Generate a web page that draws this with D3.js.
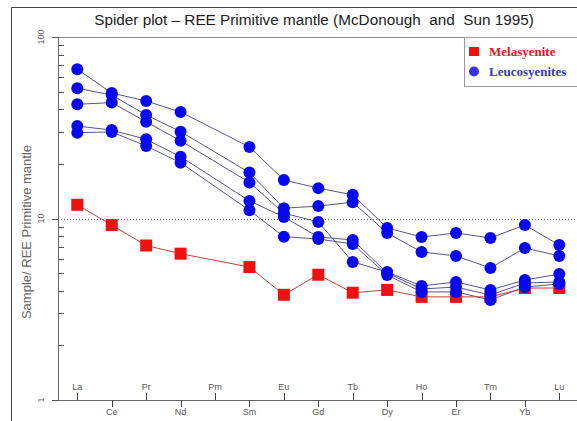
<!DOCTYPE html>
<html><head><meta charset="utf-8">
<script src="https://cdn.jsdelivr.net/npm/d3@7"></script>
<style>body{margin:0;background:#fff;}svg{display:block;}</style>
</head><body>
<svg id="c" width="577" height="421"></svg>
<script>
const elements = ["La","Ce","Pr","Nd","Pm","Sm","Eu","Gd","Tb","Dy","Ho","Er","Tm","Yb","Lu"];
const yTicks = [1, 10, 100];
const melasyenite = [11.9, 9.2, 7.1, 6.4, null, 5.4, 3.8, 4.9, 3.9, 4.04, 3.7, 3.7, 3.7, 4.14, 4.14];
const leucoA = [66.4, 49.1, 44.4, 38.6, null, 24.8, 16.3, 14.7, 13.5, 8.87, 7.91, 8.32, 7.81, 9.21, 7.14];
const leucoB = [52.2, 47.9, 37.2, 30.1, null, 17.9, 11.4, 11.7, 12.3, 8.32, 6.54, 6.22, 5.34, 6.88, 6.22];
const leucoC = [42.6, 43.5, 34.1, 26.8, null, 15.8, 10.7, 9.57, 5.76, 5.07, 4.25, 4.47, 4.04, 4.58, 4.94];
const leucoD = [32.3, 30.7, 27.3, 21.9, null, 12.5, 10.2, 7.91, 7.62, 5.01, 4.09, 4.19, 3.79, 4.41, 4.47];
const leucoE = [29.7, 30.0, 25.1, 20.3, null, 11.1, 7.94, 7.71, 7.24, 4.88, 3.94, 3.94, 3.56, 4.19, 4.36];
const leucosyenites = [leucoA, leucoB, leucoC, leucoD, leucoE];
const title = "Spider plot \u2013 REE Primitive mantle (McDonough  and  Sun 1995)";
const yTitle = "Sample/ REE Primitive mantle";

const svg = d3.select("#c");
const L = 58, T = 37, B = 400;
const x = d3.scalePoint().domain(elements).range([77.3, 559.3]);
const y = d3.scaleLog().domain([1, 100]).range([B, T]);

// outer frame
svg.append("path").attr("d", "M11.5,421 V7.5 H577").attr("fill","none").attr("stroke","#444").attr("stroke-width",1);
// title
svg.append("text").attr("x", 314).attr("y", 25).attr("text-anchor","middle").style("white-space","pre")
  .attr("font-family","Liberation Sans, Arial, sans-serif").attr("font-size",15.3).attr("fill","#222").text(title);
// plot top line
svg.append("line").attr("x1",L).attr("x2",577).attr("y1",T+0.5).attr("y2",T+0.5).attr("stroke","#888");

// y axis
const gy = svg.append("g").attr("transform",`translate(${L},0)`);
gy.append("line").attr("x1",0.5).attr("x2",0.5).attr("y1",T).attr("y2",B).attr("stroke","#666");
const minor = [];
for (let d = 1; d < 100; d *= 10) for (let k = 2; k <= 9; k++) minor.push(d * k);
gy.selectAll("line.mn").data(minor).join("line").attr("class","mn")
  .attr("x1",0.5).attr("x2",6).attr("y1",d=>Math.round(y(d))+0.5).attr("y2",d=>Math.round(y(d))+0.5)
  .attr("stroke","#555");
gy.selectAll("line.mj").data(yTicks).join("line").attr("class","mj")
  .attr("x1",-6).attr("x2",0.5).attr("y1",d=>Math.round(y(d))+0.5).attr("y2",d=>Math.round(y(d))+0.5)
  .attr("stroke","#555");
gy.selectAll("text").data(yTicks).join("text")
  .attr("transform",d=>`translate(-14,${y(d)}) rotate(-90)`).attr("text-anchor","middle")
  .attr("font-family","Liberation Sans, Arial, sans-serif").attr("font-size",9).attr("fill","#666")
  .text(d=>d);
svg.append("text").attr("transform",`translate(31,232) rotate(-90)`).attr("text-anchor","middle")
  .attr("font-family","Liberation Sans, Arial, sans-serif").attr("font-size",13).attr("fill","#666").text(yTitle);

// reference line at 10
svg.append("line").attr("x1",L).attr("x2",577).attr("y1",Math.round(y(10))+0.5).attr("y2",Math.round(y(10))+0.5)
  .attr("stroke","#666").attr("stroke-dasharray","1,2");

// x axis
const gx = svg.append("g");
gx.append("line").attr("x1",L).attr("x2",577).attr("y1",B+0.5).attr("y2",B+0.5).attr("stroke","#666");
gx.selectAll("line.t").data(elements).join("line").attr("class","t")
  .attr("x1",d=>Math.round(x(d))+0.5).attr("x2",d=>Math.round(x(d))+0.5)
  .attr("y1",B).attr("y2",(d,i)=> i%2===0 ? B-7 : B+7).attr("stroke","#444");
gx.selectAll("text").data(elements).join("text")
  .attr("x",d=>x(d)).attr("y",(d,i)=> i%2===0 ? B-10 : B+15).attr("text-anchor","middle")
  .attr("font-family","Liberation Sans, Arial, sans-serif").attr("font-size",9).attr("fill","#555")
  .text(d=>d);

// series
const line = d3.line().x(d=>x(d.e)).y(d=>y(d.v));
const toPts = arr => elements.map((e,i)=>({e, v: arr[i]})).filter(d=>d.v!=null);

leucosyenites.forEach(s=>{
  svg.append("path").datum(toPts(s)).attr("d",line).attr("fill","none").attr("stroke","#55558f").attr("stroke-width",1);
});
svg.append("path").datum(toPts(melasyenite)).attr("d",line).attr("fill","none").attr("stroke","#c84040").attr("stroke-width",1);

svg.selectAll("rect.m").data(toPts(melasyenite)).join("rect").attr("class","m")
  .attr("x",d=>x(d.e)-6).attr("y",d=>y(d.v)-6).attr("width",12).attr("height",12).attr("fill","#ee1111");
leucosyenites.forEach(s=>{
  svg.append("g").selectAll("circle").data(toPts(s)).join("circle")
    .attr("cx",d=>x(d.e)).attr("cy",d=>y(d.v)).attr("r",6).attr("fill","#0808ee");
});

// legend
const lg = svg.append("g");
lg.append("rect").attr("x",464.5).attr("y",T+0.5).attr("width",120).attr("height",49).attr("fill","#fff").attr("stroke","#999");
lg.append("rect").attr("x",469).attr("y",47).attr("width",10).attr("height",9).attr("fill","#ee1111");
lg.append("circle").attr("cx",474).attr("cy",71.5).attr("r",5).attr("fill","#3333dd");
lg.append("text").attr("x",489).attr("y",56).attr("font-family","Liberation Serif, Times New Roman, serif")
  .attr("font-weight","bold").attr("font-size",13).attr("fill","#e8141e").text("Melasyenite");
lg.append("text").attr("x",489).attr("y",76).attr("font-family","Liberation Serif, Times New Roman, serif")
  .attr("font-weight","bold").attr("font-size",13).attr("fill","#3a3ab0").text("Leucosyenites");
</script>
</body></html>
